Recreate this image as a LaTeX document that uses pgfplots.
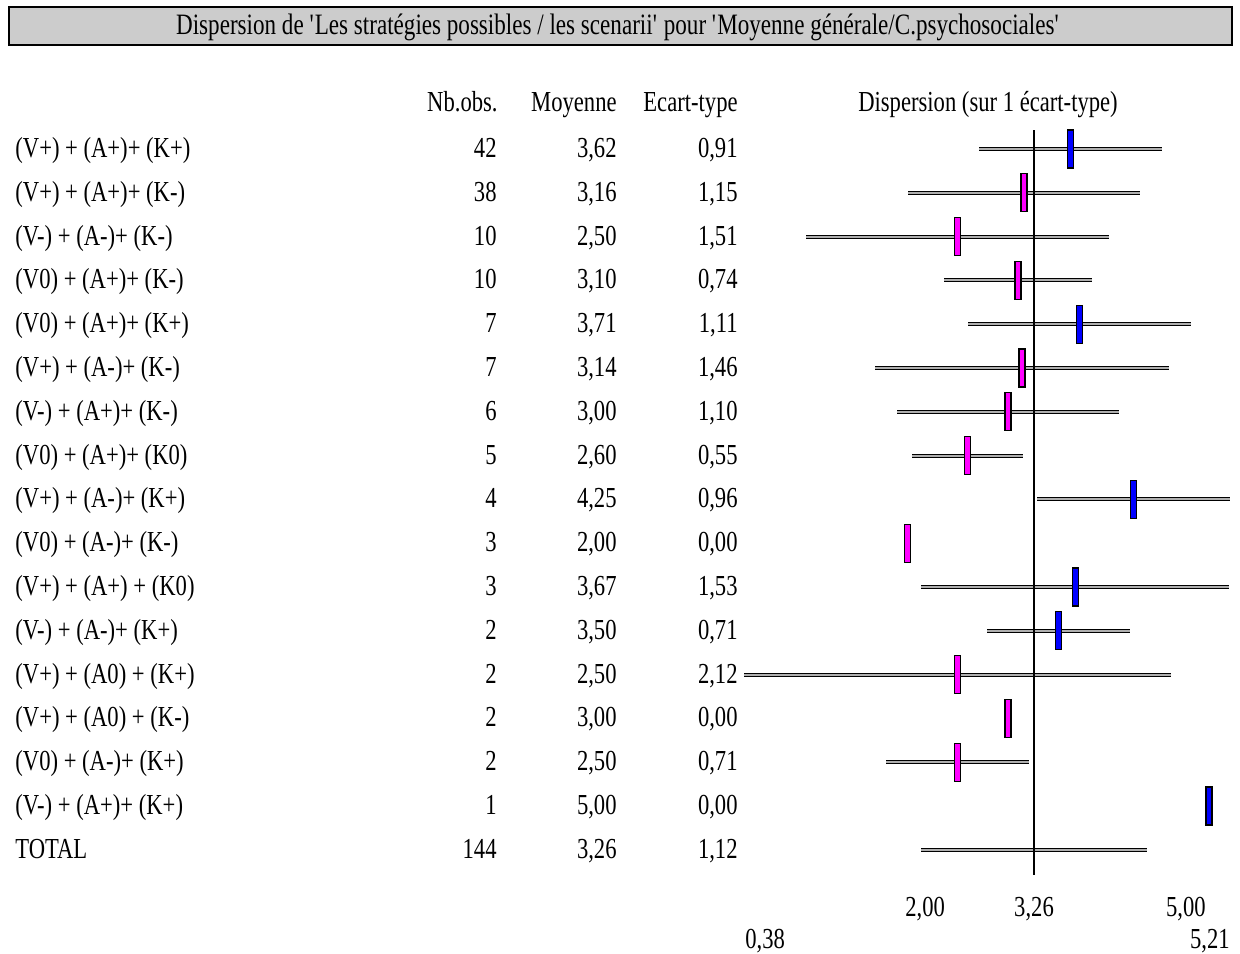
\documentclass[border=0pt]{standalone}
\usepackage{pgfplots}
\pgfplotsset{compat=1.18}
\usepackage{pgfplotstable}
\usepackage{fontspec}
\setmainfont{Liberation Serif}[FakeStretch=0.78]

\pgfdeclareplotmark{vrect}{%
  \pgfpathrectangle{\pgfqpoint{-1.5pt}{-9.5pt}}{\pgfqpoint{3pt}{19pt}}%
  \pgfusepathqfillstroke}

% r = row index, mean, sd, cls (a = above overall mean, b = below)
\pgfplotstableread{
r mean sd cls
0 3.62 0.91 a
1 3.16 1.15 b
2 2.50 1.51 b
3 3.10 0.74 b
4 3.71 1.11 a
5 3.14 1.46 b
6 3.00 1.10 b
7 2.60 0.55 b
8 4.25 0.96 a
9 2.00 0.00 b
10 3.67 1.53 a
11 3.50 0.71 a
12 2.50 2.12 b
13 3.00 0.00 b
14 2.50 0.71 b
15 5.00 0.00 a
}\rows
\pgfplotstableread{
r mean sd
16 3.26 1.12
}\total

\definecolor{boxgray}{RGB}{204,204,204}
\definecolor{bargray}{RGB}{175,175,175}
\definecolor{mblue}{RGB}{0,0,255}
\definecolor{mmag}{RGB}{255,0,255}

\begin{document}
\begin{tikzpicture}[font=\fontsize{14.5pt}{16pt}\selectfont]
\path[use as bounding box] (0,0) rectangle (620pt,476.5pt);
\begin{axis}[at={(0,0)}, anchor=south west, scale only axis,
  width=620pt, height=476.5pt,
  xmin=-7.022, xmax=5.308, ymin=0, ymax=953, y dir=reverse,
  hide axis, clip=false]
% range bars (mean +/- 1 sd)
\addplot[draw=none, mark=none, error bars/.cd, x dir=both, x explicit,
  error mark=none, error bar style={draw=black, line width=2pt}]
  table[x=mean, y expr=149+43.8*\thisrow{r}, x error=sd] {\rows};
\addplot[draw=none, mark=none, error bars/.cd, x dir=both, x explicit,
  error mark=none, error bar style={draw=bargray, line width=1pt}]
  table[x=mean, y expr=149+43.8*\thisrow{r}, x error=sd] {\rows};
\addplot[draw=none, mark=none, error bars/.cd, x dir=both, x explicit,
  error mark=none, error bar style={draw=black, line width=2pt}]
  table[x=mean, y expr=149+43.8*\thisrow{r}, x error=sd] {\total};
\addplot[draw=none, mark=none, error bars/.cd, x dir=both, x explicit,
  error mark=none, error bar style={draw=bargray, line width=1pt}]
  table[x=mean, y expr=149+43.8*\thisrow{r}, x error=sd] {\total};
% overall mean line
\addplot[black, line width=1pt, mark=none] coordinates {(3.26,130) (3.26,875)};
% group means
\addplot[scatter, only marks, scatter src=explicit symbolic,
  scatter/classes={a={mark=vrect, draw=black, fill=mblue},
                   b={mark=vrect, draw=black, fill=mmag}},
  mark options={line width=0.6pt}]
  table[x=mean, y expr=149+43.8*\thisrow{r}, meta=cls] {\rows};
\end{axis}

\begin{scope}[x=0.5pt, y=-0.5pt, shift={(0,476.5pt)}]
\draw[fill=boxgray, line width=0.8pt] (9,7) rectangle (1232,45);
\node[anchor=base, inner sep=0pt, font=\fontsize{14.8pt}{16pt}\selectfont] at (618,35) {Dispersion de \textquotesingle Les stratégies possibles / les scenarii\textquotesingle{} pour \textquotesingle Moyenne générale/C.psychosociales\textquotesingle};
\node[anchor=base east, inner sep=0pt] at (498,112) {Nb.obs.};
\node[anchor=base east, inner sep=0pt] at (617,112) {Moyenne};
\node[anchor=base east, inner sep=0pt] at (738,112) {Ecart-type};
\node[anchor=base, inner sep=0pt] at (988,112) {Dispersion (sur 1 écart-type)};
\foreach \lab/\n/\m/\s [count=\i from 0] in {
  {(V+) + (A+)+ (K+)}/42/{3,62}/{0,91},
  {(V+) + (A+)+ (K-)}/38/{3,16}/{1,15},
  {(V-) + (A-)+ (K-)}/10/{2,50}/{1,51},
  {(V0) + (A+)+ (K-)}/10/{3,10}/{0,74},
  {(V0) + (A+)+ (K+)}/7/{3,71}/{1,11},
  {(V+) + (A-)+ (K-)}/7/{3,14}/{1,46},
  {(V-) + (A+)+ (K-)}/6/{3,00}/{1,10},
  {(V0) + (A+)+ (K0)}/5/{2,60}/{0,55},
  {(V+) + (A-)+ (K+)}/4/{4,25}/{0,96},
  {(V0) + (A-)+ (K-)}/3/{2,00}/{0,00},
  {(V+) + (A+) + (K0)}/3/{3,67}/{1,53},
  {(V-) + (A-)+ (K+)}/2/{3,50}/{0,71},
  {(V+) + (A0) + (K+)}/2/{2,50}/{2,12},
  {(V+) + (A0) + (K-)}/2/{3,00}/{0,00},
  {(V0) + (A-)+ (K+)}/2/{2,50}/{0,71},
  {(V-) + (A+)+ (K+)}/1/{5,00}/{0,00},
  {TOTAL}/144/{3,26}/{1,12}}{
  \node[anchor=base west, inner sep=0pt] at (15,{157.5+43.8*\i}) {\lab};
  \node[anchor=base east, inner sep=0pt] at (497,{157.5+43.8*\i}) {\n};
  \node[anchor=base east, inner sep=0pt] at (617,{157.5+43.8*\i}) {\m};
  \node[anchor=base east, inner sep=0pt] at (738,{157.5+43.8*\i}) {\s};
}
\node[anchor=base west, inner sep=0pt] at (905,916) {2,00};
\node[anchor=base, inner sep=0pt] at (1034,916) {3,26};
\node[anchor=base east, inner sep=0pt] at (1206,916) {5,00};
\node[anchor=base west, inner sep=0pt] at (745,948) {0,38};
\node[anchor=base east, inner sep=0pt] at (1230,948) {5,21};
\end{scope}
\end{tikzpicture}
\end{document}
